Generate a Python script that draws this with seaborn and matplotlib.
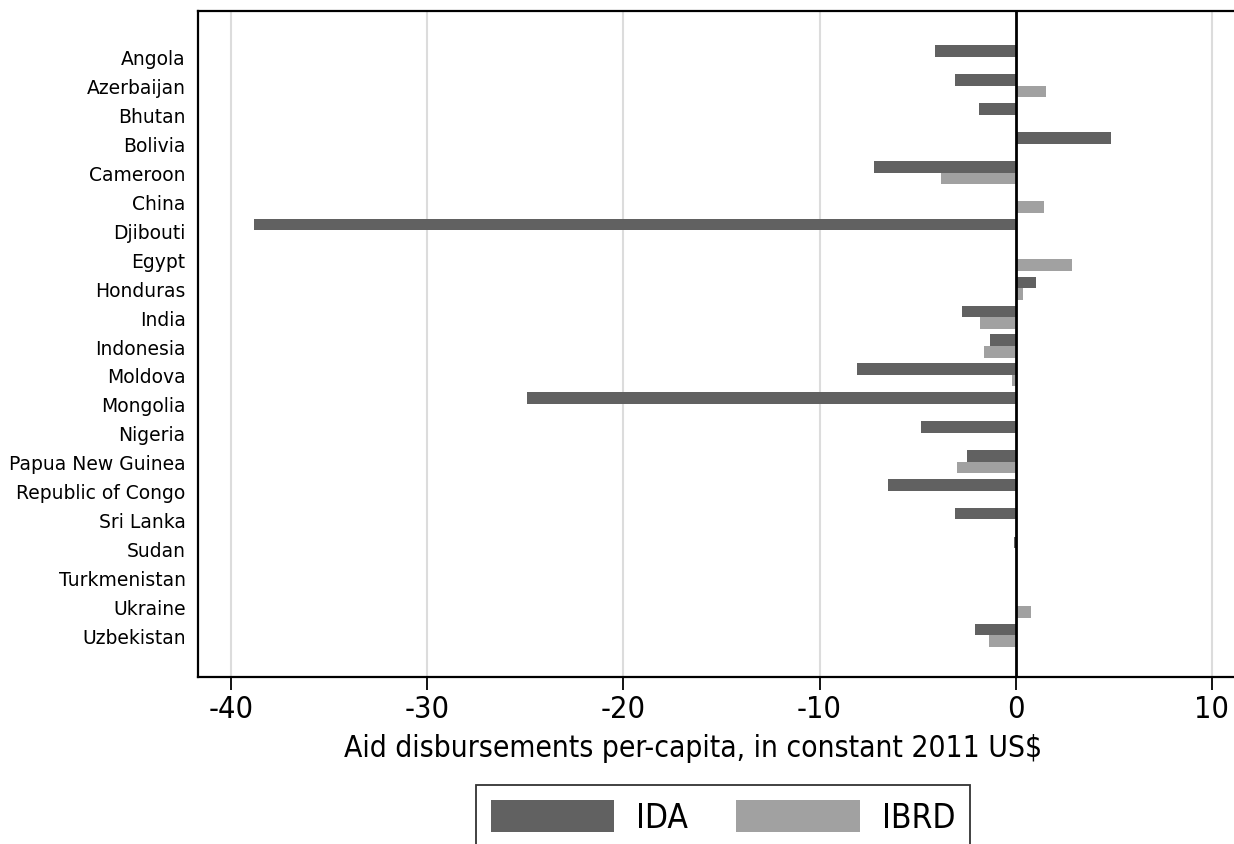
import numpy as np
import pandas as pd
import matplotlib
matplotlib.use("Agg")
import matplotlib.pyplot as plt
import seaborn as sns

# values (per-capita, constant 2011 US$)
countries = ["Angola", "Azerbaijan", "Bhutan", "Bolivia", "Cameroon", "China",
             "Djibouti", "Egypt", "Honduras", "India", "Indonesia", "Moldova",
             "Mongolia", "Nigeria", "Papua New Guinea", "Republic of Congo",
             "Sri Lanka", "Sudan", "Turkmenistan", "Ukraine", "Uzbekistan"]
ida = [-4.13, -3.09, -1.89, 4.85, -7.21, 0.0,
       -38.84, 0.0, 1.06, -2.72, -1.29, -8.08,
       -24.91, -4.83, -2.48, -6.53,
       -3.09, -0.08, 0.0, 0.0, -2.07]
ibrd = [0.0, 1.53, 0.0, 0.0, -3.81, 1.46,
        0.0, 2.86, 0.39, -1.80, -1.60, -0.20,
        0.0, 0.0, -3.01, 0.0,
        0.0, 0.0, 0.08, 0.78, -1.38]
series = ["IDA", "IBRD"]
colors = ["#616161", "#a1a1a1"]
xticks = [-40, -30, -20, -10, 0, 10]

df = pd.DataFrame({
    "country": countries * 2,
    "value": ida + ibrd,
    "type": ["IDA"] * len(countries) + ["IBRD"] * len(countries),
})

sns.set_theme(style="white")
plt.rcParams["font.family"] = ["DejaVu Sans"]
plt.rcParams["text.color"] = "black"
plt.rcParams["xtick.color"] = "black"
plt.rcParams["ytick.color"] = "black"

fig = plt.figure(figsize=(12.34, 8.45), dpi=100)
# axes runs off the right edge like the reference
ax = fig.add_axes([198 / 1234, 167 / 845, (1245 - 198) / 1234, 666 / 845])

sns.barplot(data=df, x="value", y="country", hue="type", hue_order=series,
            order=countries, palette=colors, width=0.8, linewidth=0,
            ax=ax, orient="h")

ax.set_xlim(-41.7, 11.7)
ax.set_ylim(len(countries) - 1 + 1.45, -1.59)

# grid + zero line
for t in xticks:
    if t != 0:
        ax.axvline(t, color="#dcdcdc", lw=1.5, zorder=0)
ax.axvline(0, color="black", lw=2, zorder=3)

ax.set_xticks(xticks)
ax.set_xticklabels([str(t) for t in xticks], fontstretch="condensed")
ax.tick_params(axis="x", labelsize=22, length=9.5, width=1.3, color="black",
               direction="out", pad=3, bottom=True)
ax.tick_params(axis="y", labelsize=13.5, length=0, pad=9)
ax.set_ylabel("")
ax.set_xlabel("")

for s in ["left", "top", "bottom"]:
    ax.spines[s].set_visible(True)
    ax.spines[s].set_color("black")
    ax.spines[s].set_linewidth(1.6)
ax.spines["right"].set_visible(False)

fig.text(693 / 1234, (845 - 757) / 845,
         "Aid disbursements per-capita, in constant 2011 US$",
         ha="center", va="baseline", fontsize=21.5, fontstretch="condensed")

handles, labels = ax.get_legend_handles_labels()
if ax.get_legend() is not None:
    ax.get_legend().remove()
leg = fig.legend(handles, labels, loc="upper center",
                 bbox_to_anchor=(723 / 1234, (845 - 786) / 845),
                 ncol=2, frameon=True, fancybox=False,
                 prop={"size": 24, "stretch": "condensed"},
                 handlelength=3.7, handleheight=1.1, handletextpad=0.66,
                 columnspacing=1.45, borderpad=0.45, borderaxespad=0)
leg.get_frame().set_edgecolor("black")
leg.get_frame().set_linewidth(1.3)

fig.savefig("out.png", dpi=100)
